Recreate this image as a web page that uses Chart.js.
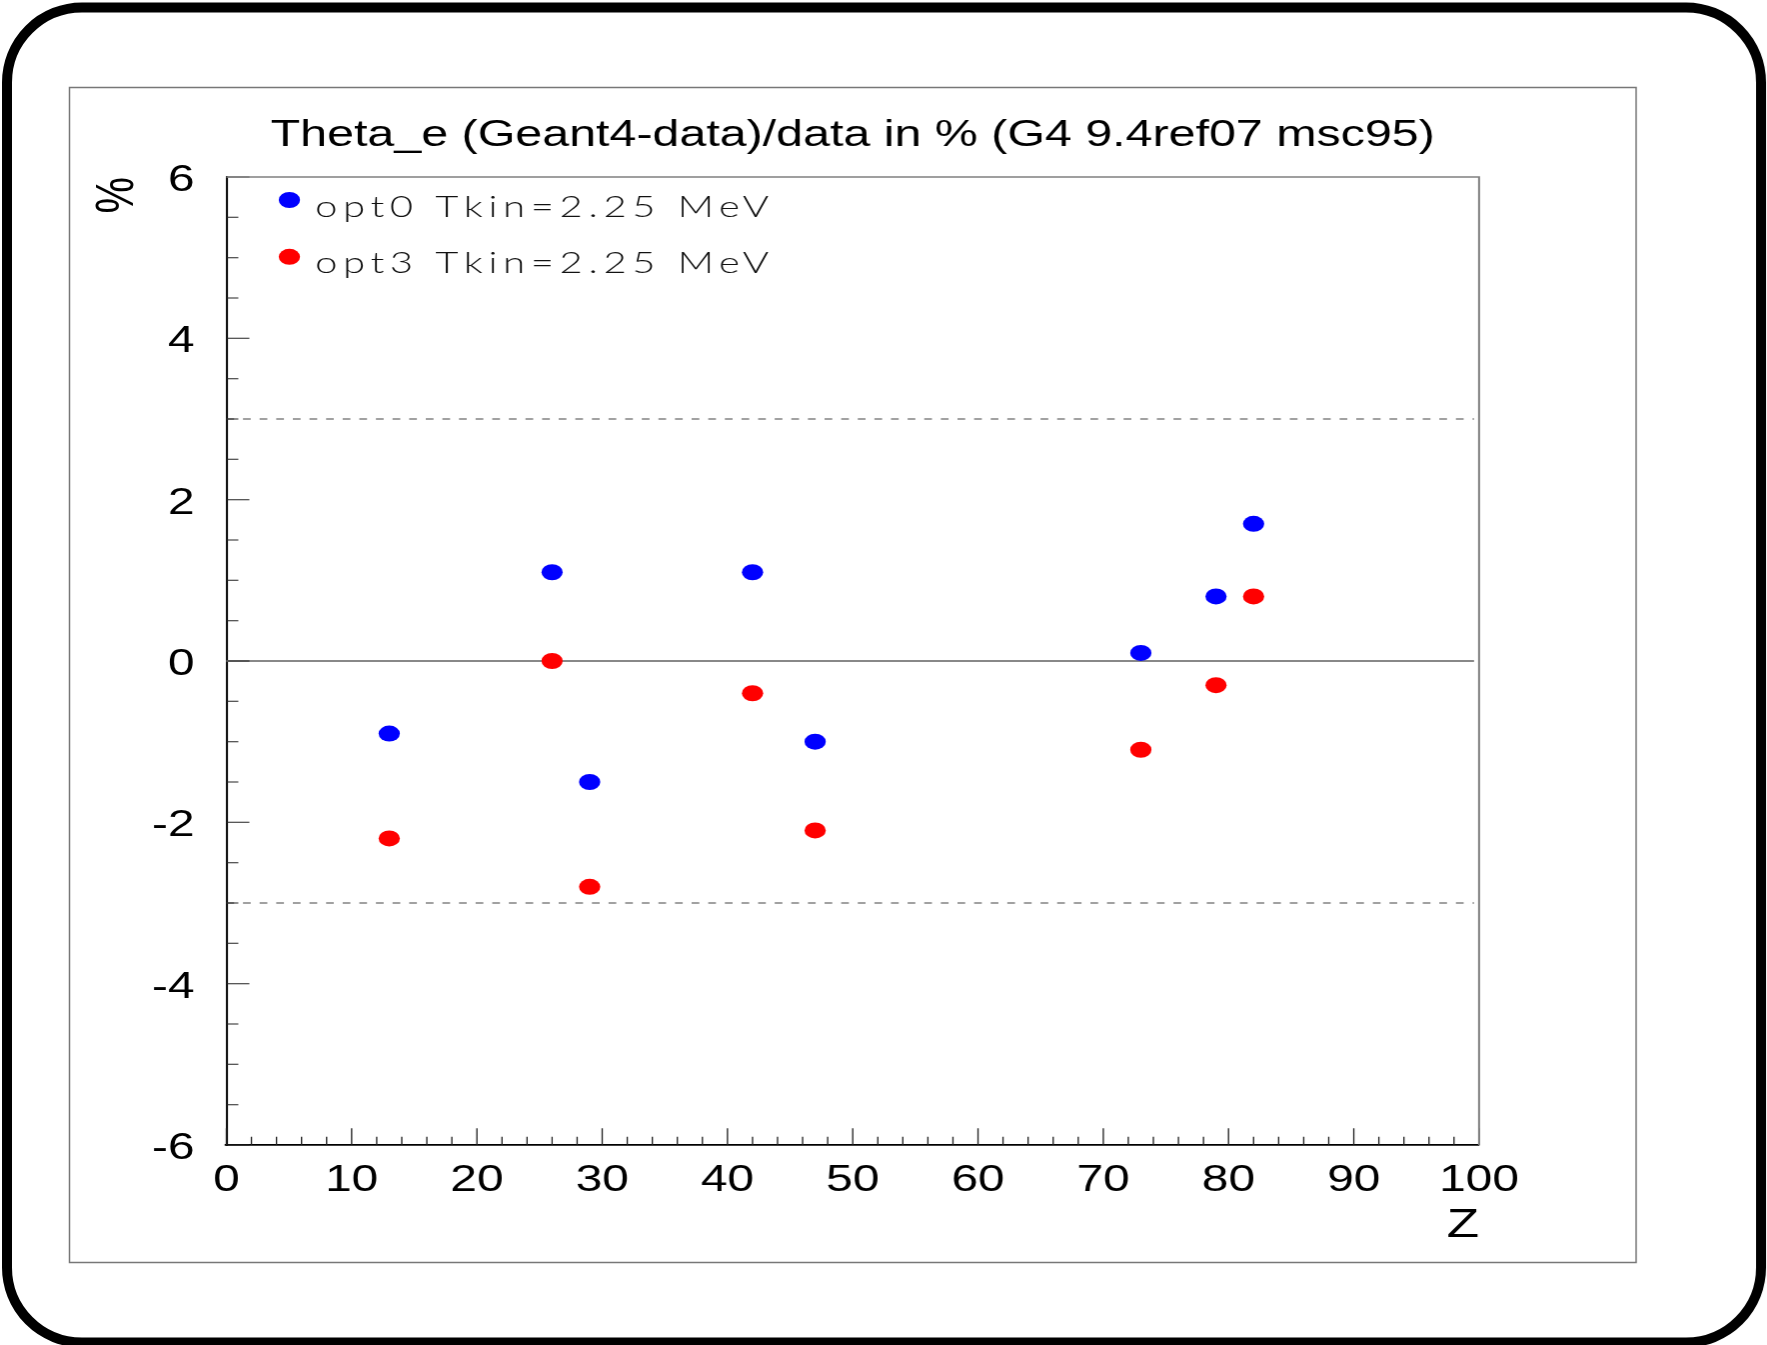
<!DOCTYPE html>
<html>
<head>
<meta charset="utf-8">
<title>Theta_e (Geant4-data)/data</title>
<script src="https://cdn.jsdelivr.net/npm/chart.js@4.4.1/dist/chart.umd.min.js"></script>
<style>
  html, body { margin: 0; padding: 0; background: #fff; overflow: hidden; }
</style>
</head>
<body>
<canvas id="plot" width="1329" height="1345" style="display:block;width:1767px;height:1345px"></canvas>
<script>
// Z of the targets and (Geant4-data)/data for each physics list, in %
const targetZ = [13, 26, 29, 42, 47, 73, 79, 82];
const opt0Dev = [-0.9, 1.1, -1.5, 1.1, -1.0, 0.1, 0.8, 1.7];
const opt3Dev = [-2.2, 0.0, -2.8, -0.4, -2.1, -1.1, -0.3, 0.8];
const seriesNames = ['opt0 Tkin=2.25 MeV', 'opt3 Tkin=2.25 MeV'];
const seriesColors = ['#0000ff', '#ff0000'];

const xTickValues = [0, 10, 20, 30, 40, 50, 60, 70, 80, 90, 100];
const yTickValues = [-6, -4, -2, 0, 2, 4, 6];
const bandLines = [-3, 3];   // dashed +-3% band
const baseLine = 0;

// layout is done on a narrower canvas and stretched back out horizontally
const SX = 1.33;
const FONT = "'Liberation Sans', Arial, Helvetica, sans-serif";

function hline(ctx, x0, x1, y) {
  ctx.beginPath();
  ctx.moveTo(x0, y);
  ctx.lineTo(x1, y);
  ctx.stroke();
}

const rootFrame = {
  id: 'rootFrame',
  beforeDraw(chart) {
    const ctx = chart.ctx;
    ctx.save();
    ctx.setTransform(SX, 0, 0, 1, 0, 0);
    ctx.fillStyle = '#fff';
    ctx.fillRect(0, 0, chart.width, chart.height);
  },
  beforeDatasetsDraw(chart) {
    const {ctx, chartArea: a, scales: {x, y}} = chart;
    const xEnd = x.getPixelForValue(99.6);
    ctx.save();
    ctx.strokeStyle = '#888';
    ctx.lineWidth = 1.8;
    hline(ctx, a.left, xEnd, y.getPixelForValue(baseLine));
    ctx.strokeStyle = '#444';
    ctx.lineWidth = 1.2;
    ctx.setLineDash([5.8, 6.7]);
    bandLines.forEach(v => hline(ctx, a.left, xEnd, y.getPixelForValue(v)));
    ctx.restore();
  },
  afterDatasetsDraw(chart) {
    const {ctx, chartArea: a, scales: {x, y}} = chart;
    ctx.save();

    // inward ticks: y every 0.5 (long every 2), x every 2 (long every 10)
    ctx.strokeStyle = '#222';
    ctx.lineWidth = 1;
    ctx.beginPath();
    for (let k = 0; k <= (y.max - y.min) / 0.5; k++) {
      const v = y.min + k * 0.5;
      const py = y.getPixelForValue(v);
      const len = (k % 4 === 0) ? 17.3 : 9;
      ctx.moveTo(a.left, py);
      ctx.lineTo(a.left + len, py);
    }
    for (let k = 0; k <= (x.max - x.min) / 2; k++) {
      const px = x.getPixelForValue(x.min + k * 2);
      const len = (k % 5 === 0) ? 16.7 : 8.3;
      ctx.moveTo(px, a.bottom);
      ctx.lineTo(px, a.bottom - len);
    }
    ctx.stroke();

    // top and right edges of the frame
    ctx.strokeStyle = '#808080';
    ctx.lineWidth = 1.5;
    ctx.beginPath();
    ctx.moveTo(a.left, a.top);
    ctx.lineTo(a.right, a.top);
    ctx.lineTo(a.right, a.bottom);
    ctx.stroke();

    // legend in the upper left corner
    chart.data.datasets.forEach((ds, i) => {
      const cy = 200 + i * 56.8;
      ctx.beginPath();
      ctx.arc(217.7, cy, 8, 0, 2 * Math.PI);
      ctx.fillStyle = ds.backgroundColor;
      ctx.fill();
      ctx.font = '300 30px Lato, "DejaVu Sans", sans-serif';
      ctx.letterSpacing = '4.3px';
      ctx.fillStyle = '#111';
      ctx.textAlign = 'left';
      ctx.textBaseline = 'alphabetic';
      ctx.fillText(ds.label, 237, cy + 16.5);
    });
    ctx.restore();
  },
  afterDraw(chart) {
    const ctx = chart.ctx;
    ctx.restore();
    // pad box and rounded page border, in plain pixels
    ctx.save();
    ctx.strokeStyle = '#777';
    ctx.lineWidth = 1.5;
    ctx.strokeRect(69.5, 87.5, 1567.5, 1175);
    ctx.strokeStyle = '#000';
    ctx.lineWidth = 10;
    ctx.beginPath();
    ctx.roundRect(7, 7.5, 1755, 1335, 75);
    ctx.stroke();
    ctx.restore();
  }
};

const tickFont = { family: FONT, size: 36 };

const config = {
  type: 'scatter',
  data: {
    datasets: [opt0Dev, opt3Dev].map((vals, i) => ({
      label: seriesNames[i],
      data: targetZ.map((z, k) => ({ x: z, y: vals[k] })),
      backgroundColor: seriesColors[i],
      borderWidth: 0,
      pointRadius: 8,
      pointHoverRadius: 8
    }))
  },
  options: {
    responsive: false,
    animation: false,
    devicePixelRatio: 1,
    events: [],
    layout: { padding: { top: 0, left: 0, right: 216.3, bottom: 0 } },
    plugins: {
      legend: { display: false },
      tooltip: { enabled: false },
      title: {
        display: true,
        fullSize: false,
        text: 'Theta_e (Geant4-data)/data in % (G4 9.4ref07 msc95)',
        color: '#000',
        font: { family: FONT, size: 36.4, weight: 'normal' },
        padding: { top: 114.2, bottom: 19.1 }
      }
    },
    scales: {
      x: {
        type: 'linear',
        position: 'bottom',
        min: 0,
        max: 100,
        grid: { display: false, drawTicks: false },
        border: { color: '#000', width: 1.8 },
        afterBuildTicks: s => { s.ticks = xTickValues.map(v => ({ value: v })); },
        afterFit: s => { s.height = 200; },
        ticks: {
          autoSkip: false,
          maxRotation: 0,
          padding: 14.4,
          color: '#000',
          font: tickFont,
          callback: v => String(v)
        },
        title: {
          display: true,
          text: 'Z',
          align: 'end',
          color: '#000',
          font: { family: FONT, size: 40 },
          padding: { top: 0, bottom: 95.5 }
        }
      },
      y: {
        type: 'linear',
        position: 'left',
        min: -6,
        max: 6,
        grid: { display: false, drawTicks: false },
        border: { color: '#000', width: 1.5 },
        afterBuildTicks: s => { s.ticks = yTickValues.map(v => ({ value: v })); },
        afterFit: s => { s.width = 170.3; },
        ticks: {
          autoSkip: false,
          padding: 24,
          labelOffset: 4,
          color: '#000',
          font: tickFont,
          callback: v => String(v)
        },
        title: {
          display: true,
          text: '%',
          align: 'end',
          color: '#000',
          font: { family: FONT, size: 41 },
          padding: { top: 63.8, bottom: 0 }
        }
      }
    }
  },
  plugins: [rootFrame]
};

const canvas = document.getElementById('plot');
const chart = new Chart(canvas, config);
// widen the backing store and repaint with the horizontal stretch
canvas.width = Math.round(chart.width * SX);
chart.draw();
</script>
</body>
</html>
